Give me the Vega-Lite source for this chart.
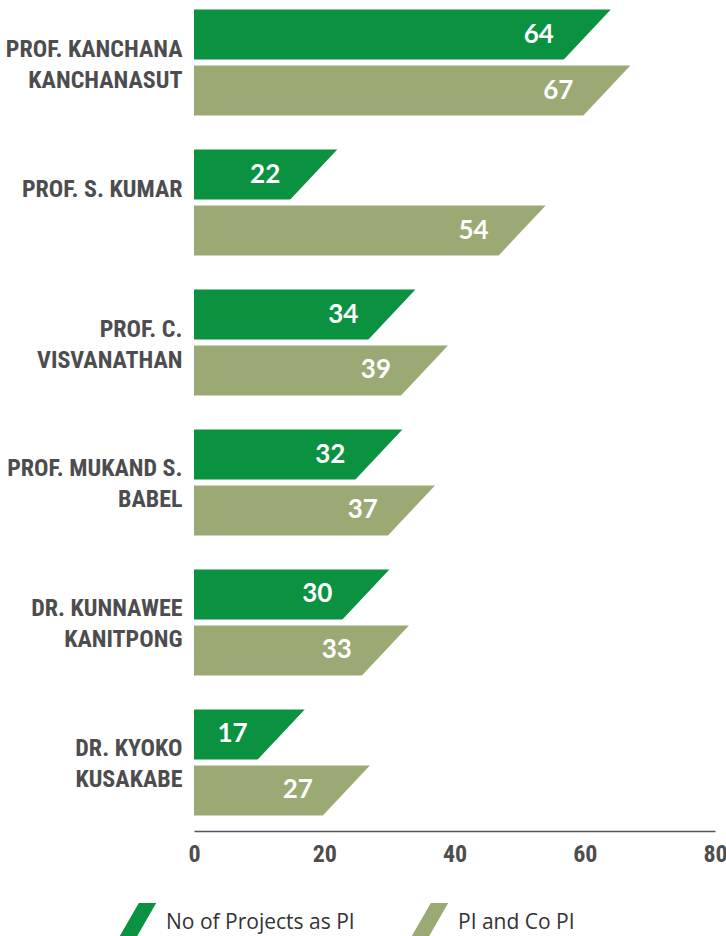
{
  "$schema": "https://vega.github.io/schema/vega-lite/v6.json",
  "width": 521,
  "height": 825,
  "padding": 0,
  "autosize": {"type": "pad"},
  "config": {"view": {"stroke": null}, "background": "white"},
  "data": {
    "values": [
      {"name": "PROF. KANCHANA|KANCHANASUT", "series": "No of Projects as PI", "value": 64},
      {"name": "PROF. KANCHANA|KANCHANASUT", "series": "PI and Co PI", "value": 67},
      {"name": "PROF. S. KUMAR", "series": "No of Projects as PI", "value": 22},
      {"name": "PROF. S. KUMAR", "series": "PI and Co PI", "value": 54},
      {"name": "PROF. C.|VISVANATHAN", "series": "No of Projects as PI", "value": 34},
      {"name": "PROF. C.|VISVANATHAN", "series": "PI and Co PI", "value": 39},
      {"name": "PROF. MUKAND S.|BABEL", "series": "No of Projects as PI", "value": 32},
      {"name": "PROF. MUKAND S.|BABEL", "series": "PI and Co PI", "value": 37},
      {"name": "DR. KUNNAWEE|KANITPONG", "series": "No of Projects as PI", "value": 30},
      {"name": "DR. KUNNAWEE|KANITPONG", "series": "PI and Co PI", "value": 33},
      {"name": "DR. KYOKO|KUSAKABE", "series": "No of Projects as PI", "value": 17},
      {"name": "DR. KYOKO|KUSAKABE", "series": "PI and Co PI", "value": 27}
    ]
  },
  "encoding": {
    "y": {
      "field": "name",
      "type": "nominal",
      "sort": null,
      "scale": {"paddingInner": 0.2429, "paddingOuter": 0.068},
      "axis": {
        "title": null,
        "ticks": false,
        "domain": false,
        "labelExpr": "split(datum.label, '|')",
        "labelLineHeight": 31,
        "labelOffset": -13,
        "labelFont": "Roboto Condensed, DejaVu Sans Condensed, Roboto",
        "labelFontWeight": "bold",
        "labelFontSize": 24,
        "labelColor": "#4d4d4f",
        "labelPadding": 12,
        "labelLimit": 182,
        "minExtent": 194,
        "maxExtent": 194
      }
    },
    "yOffset": {
      "field": "series",
      "type": "nominal",
      "sort": null,
      "scale": {"paddingInner": 0.107, "paddingOuter": 0}
    }
  },
  "layer": [
    {
      "mark": {"type": "bar"},
      "encoding": {
        "x": {
          "field": "value",
          "type": "quantitative",
          "scale": {"domain": [0, 80], "nice": false},
          "axis": {
            "title": null,
            "values": [0, 20, 40, 60, 80],
            "grid": false,
            "ticks": false,
            "domainColor": "#555555",
            "domainWidth": 1.5,
            "offset": 6,
            "labelFont": "Roboto Condensed, DejaVu Sans Condensed, Roboto",
            "labelFontWeight": "bold",
            "labelFontSize": 24,
            "labelColor": "#4d4d4f",
            "labelPadding": 11,
            "labelFlush": false
          }
        },
        "color": {
          "field": "series",
          "type": "nominal",
          "sort": null,
          "scale": {"domain": ["No of Projects as PI", "PI and Co PI"], "range": ["#0a9241", "#9baa75"]},
          "legend": {
            "orient": "none",
            "legendX": -78,
            "legendY": 903,
            "direction": "horizontal",
            "title": null,
            "symbolType": "M0.14,-1L1.01,-1L-0.14,1L-1.01,1Z",
            "symbolSize": 1600,
            "symbolStrokeWidth": 0,
            "symbolOpacity": 1,
            "labelFont": "Open Sans",
            "labelFontSize": 21,
            "labelColor": "#333333",
            "labelOffset": 10,
            "columnPadding": 52,
            "labelLimit": 300
          }
        }
      }
    },
    {
      "mark": {
        "type": "point",
        "shape": "M0.094,-1.1L0.4,-1.1L0.4,1.1L-1.974,1.1Z",
        "size": 2500,
        "filled": true,
        "fill": "white",
        "strokeWidth": 0,
        "opacity": 1
      },
      "encoding": {
        "x": {"field": "value", "type": "quantitative"}
      }
    },
    {
      "mark": {
        "type": "text",
        "dx": -57,
        "align": "right",
        "baseline": "middle",
        "color": "white",
        "font": "Lato",
        "fontSize": 26,
        "fontWeight": "bold"
      },
      "encoding": {
        "x": {"field": "value", "type": "quantitative"},
        "text": {"field": "value", "type": "quantitative"}
      }
    }
  ]
}
